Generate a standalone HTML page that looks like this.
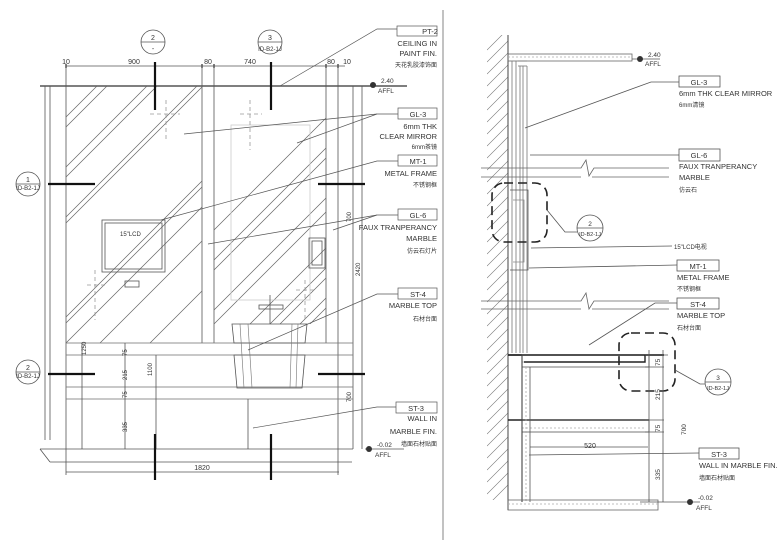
<!DOCTYPE html>
<html><head><meta charset="utf-8"><style>
html,body{margin:0;padding:0;background:#fff;}
svg{display:block;}
text{font-family:"Liberation Sans","Noto Sans CJK SC",sans-serif;fill:#333;}
</style></head><body>
<svg width="780" height="551" viewBox="0 0 780 551" xmlns="http://www.w3.org/2000/svg">
<defs>
<clipPath id="c1"><rect x="66" y="86" width="136" height="257"/></clipPath>
<clipPath id="c2"><rect x="214" y="86" width="112" height="238"/></clipPath>
<clipPath id="c3"><rect x="326" y="86" width="12" height="257"/></clipPath>
<clipPath id="wh"><rect x="487" y="35" width="21" height="465"/></clipPath>
</defs>
<g stroke="#555" stroke-width="0.8" fill="none">
<!-- divider -->
<line x1="443" y1="10" x2="443" y2="540" stroke="#666"/>
<!-- top dim -->
<line x1="66" y1="66" x2="345" y2="66"/>
<g stroke-width="1.5"><line x1="66" y1="64" x2="66" y2="68"/><line x1="202" y1="64" x2="202" y2="68"/><line x1="214" y1="64" x2="214" y2="68"/><line x1="326" y1="64" x2="326" y2="68"/><line x1="338" y1="64" x2="338" y2="68"/></g>
<!-- ceiling -->
<line x1="40" y1="86" x2="407" y2="86" stroke-width="1.4"/>
<!-- outer verticals -->
<line x1="45" y1="86" x2="45" y2="440"/>
<line x1="50" y1="86" x2="50" y2="440"/>
<line x1="66" y1="66" x2="66" y2="475"/>
<line x1="202" y1="66" x2="202" y2="343"/>
<line x1="214" y1="66" x2="214" y2="343"/>
<line x1="326" y1="66" x2="326" y2="343"/>
<line x1="338" y1="66" x2="338" y2="475"/>
<line x1="353" y1="86" x2="353" y2="449"/>
<line x1="362" y1="86" x2="362" y2="449"/>
<!-- hatch -->
<g clip-path="url(#c1)" stroke="#666" stroke-width="0.7">
<line x1="40" y1="343" x2="297" y2="86"/><line x1="46" y1="343" x2="303" y2="86"/>
<line x1="66" y1="343" x2="323" y2="86"/><line x1="100" y1="343" x2="357" y2="86"/>
<line x1="-60" y1="343" x2="197" y2="86"/><line x1="-54" y1="343" x2="203" y2="86"/>
<line x1="-110" y1="343" x2="147" y2="86"/><line x1="-100" y1="343" x2="157" y2="86"/>
<line x1="-160" y1="343" x2="97" y2="86"/><line x1="-150" y1="343" x2="107" y2="86"/>
<line x1="150" y1="343" x2="407" y2="86"/>
</g>
<g clip-path="url(#c2)" stroke="#666" stroke-width="0.7">
<line x1="214" y1="324" x2="452" y2="86"/><line x1="200" y1="324" x2="438" y2="86"/>
<line x1="250" y1="324" x2="488" y2="86"/><line x1="270" y1="324" x2="508" y2="86"/>
<line x1="280" y1="324" x2="518" y2="86"/><line x1="150" y1="324" x2="388" y2="86"/>
<line x1="160" y1="324" x2="398" y2="86"/><line x1="120" y1="324" x2="358" y2="86"/>
<line x1="300" y1="324" x2="538" y2="86"/><line x1="310" y1="324" x2="548" y2="86"/>
</g>
<!-- mirror inner -->
<rect x="231" y="125" width="79" height="175" stroke="#ccc"/>
<!-- TV -->
<rect x="102" y="220" width="63" height="52"/>
<rect x="105" y="223" width="57" height="46"/>
<rect x="125" y="281" width="14" height="6"/>
<!-- switch right -->
<rect x="309" y="238" width="16" height="30"/>
<rect x="312" y="241" width="10" height="24"/>
<!-- dashed cross markers -->
<g stroke="#999" stroke-dasharray="4,3">
<line x1="166" y1="100" x2="166" y2="140"/><line x1="150" y1="114" x2="180" y2="114"/>
<line x1="250" y1="100" x2="250" y2="150"/><line x1="240" y1="114" x2="262" y2="114"/>
<line x1="95" y1="270" x2="95" y2="320"/><line x1="87" y1="285" x2="105" y2="285"/>
<line x1="305" y1="280" x2="305" y2="320"/><line x1="296" y1="290" x2="316" y2="290"/>
</g>
<!-- counter -->
<rect x="66" y="343" width="287" height="12" stroke="#777"/>
<rect x="66" y="387" width="287" height="12" stroke="#777"/>
<line x1="66" y1="449" x2="353" y2="449"/>
<line x1="156" y1="355" x2="156" y2="449"/>
<line x1="248" y1="399" x2="248" y2="449"/>
<line x1="40" y1="449" x2="66" y2="449"/>
<line x1="40" y1="449" x2="50" y2="462"/>
<line x1="50" y1="462" x2="352" y2="462"/>
<line x1="82" y1="343" x2="82" y2="449"/>
<line x1="125" y1="343" x2="125" y2="449"/>
<!-- sink -->
<path d="M232 324 L307 324 L305 343 L234 343 Z"/>
<path d="M234 355 L305 355 L302 388 L237 388 Z"/>
<g stroke="#777" stroke-width="0.6"><line x1="240" y1="324" x2="244" y2="388"/><line x1="248" y1="324" x2="252" y2="388"/><line x1="292" y1="324" x2="290" y2="388"/><line x1="298" y1="324" x2="296" y2="388"/></g>
<line x1="270" y1="295" x2="270" y2="324"/>
<rect x="259" y="305" width="24" height="4"/>
<!-- bottom dim -->
<line x1="66" y1="472" x2="339" y2="472"/>
<!-- section markers -->
<circle cx="153" cy="42" r="12"/><line x1="141" y1="42" x2="165" y2="42"/>
<circle cx="270" cy="42" r="12"/><line x1="258" y1="42" x2="282" y2="42"/>
<circle cx="28" cy="184" r="12"/><line x1="16" y1="184" x2="40" y2="184"/>
<circle cx="28" cy="372" r="12"/><line x1="16" y1="372" x2="40" y2="372"/>
</g>
<g stroke="#111" stroke-width="2.2">
<line x1="155" y1="62" x2="155" y2="110"/><line x1="271" y1="62" x2="271" y2="110"/>
<line x1="155" y1="434" x2="155" y2="480"/><line x1="271" y1="434" x2="271" y2="480"/>
<line x1="48" y1="184" x2="95" y2="184"/><line x1="318" y1="184" x2="365" y2="184"/>
<line x1="48" y1="374" x2="95" y2="374"/><line x1="318" y1="374" x2="365" y2="374"/>
</g>
<g font-size="7" text-anchor="middle">
<text x="153" y="40">2</text><text x="153" y="51">-</text>
<text x="270" y="40">3</text><text x="270" y="51" font-size="6">ID-B2-1J</text>
<text x="28" y="182">1</text><text x="28" y="190" font-size="6">ID-B2-1J</text>
<text x="28" y="370">2</text><text x="28" y="378" font-size="6">ID-B2-1J</text>
<text x="66" y="64">10</text><text x="134" y="64">900</text><text x="208" y="64">80</text><text x="250" y="64">740</text><text x="331" y="64">80</text><text x="347" y="64">10</text>
<text x="202" y="470">1820</text>
<text x="120" y="236" font-size="6" text-anchor="start" x-fix="">15"LCD</text>
</g>
<g font-size="6" fill="#333">
<text transform="translate(86,355) rotate(-90)">1250</text>
<text transform="translate(127,356) rotate(-90)">75</text>
<text transform="translate(127,380) rotate(-90)">215</text>
<text transform="translate(127,398) rotate(-90)">75</text>
<text transform="translate(127,432) rotate(-90)">335</text>
<text transform="translate(152,376) rotate(-90)">1100</text>
<text transform="translate(351,222) rotate(-90)">700</text>
<text transform="translate(360,276) rotate(-90)">2420</text>
<text transform="translate(351,402) rotate(-90)">700</text>
</g>
<!-- labels left -->
<g stroke="#555" stroke-width="0.7" fill="none">
<rect x="397" y="26" width="40" height="10"/>
<rect x="398" y="108" width="39" height="11"/>
<rect x="398" y="155" width="39" height="11"/>
<rect x="398" y="209" width="39" height="11"/>
<rect x="398" y="288" width="39" height="11"/>
<rect x="396" y="402" width="41" height="11"/>
<polyline points="397,29 377,29 280,86"/>
<polyline points="398,114 377,114 184,134"/><line x1="377" y1="114" x2="297" y2="143"/>
<polyline points="398,161 377,161 161,220"/>
<polyline points="398,215 377,215 208,244"/><line x1="377" y1="215" x2="333" y2="230"/>
<polyline points="398,294 377,294 248,350"/>
<polyline points="396,407 377,407 253,428"/>
<line x1="365" y1="86" x2="407" y2="86"/>
<line x1="365" y1="449" x2="404" y2="449"/>
</g>
<g font-size="7.5" text-anchor="end">
<text x="430" y="34" text-anchor="middle">PT-2</text>
<text x="437" y="46">CEILING IN</text><text x="437" y="56">PAINT FIN.</text><text x="437" y="67" font-size="6">天花乳胶漆饰面</text>
<text x="418" y="117" text-anchor="middle">GL-3</text>
<text x="437" y="129">6mm THK</text><text x="437" y="139">CLEAR MIRROR</text><text x="437" y="149" font-size="6">6mm茶镜</text>
<text x="418" y="164" text-anchor="middle">MT-1</text>
<text x="437" y="176">METAL FRAME</text><text x="437" y="187" font-size="6">不锈钢框</text>
<text x="418" y="218" text-anchor="middle">GL-6</text>
<text x="437" y="230">FAUX TRANPERANCY</text><text x="437" y="241">MARBLE</text><text x="437" y="253" font-size="6">仿云石灯片</text>
<text x="418" y="297" text-anchor="middle">ST-4</text>
<text x="437" y="308">MARBLE TOP</text><text x="437" y="321" font-size="6">石材台面</text>
<text x="416" y="411" text-anchor="middle">ST-3</text>
<text x="437" y="421">WALL IN</text><text x="437" y="434">MARBLE FIN.</text><text x="437" y="446" font-size="6">墙面石材贴面</text>
</g>
<g font-size="6.5">
<circle cx="373" cy="85" r="3" fill="#333"/><text x="381" y="83">2.40</text><text x="378" y="93">AFFL</text>
<circle cx="369" cy="449" r="3" fill="#333"/><text x="377" y="447">-0.02</text><text x="375" y="457">AFFL</text>
</g>

<!-- RIGHT SECTION -->
<g stroke="#555" stroke-width="0.8" fill="none">
<g clip-path="url(#wh)" stroke="#777" stroke-width="0.6">
<path d="M487 50 l21 -21 M487 62 l21 -21 M487 74 l21 -21 M487 86 l21 -21 M487 98 l21 -21 M487 110 l21 -21 M487 122 l21 -21 M487 134 l21 -21 M487 146 l21 -21 M487 158 l21 -21 M487 170 l21 -21 M487 182 l21 -21 M487 194 l21 -21 M487 206 l21 -21 M487 218 l21 -21 M487 230 l21 -21 M487 242 l21 -21 M487 254 l21 -21 M487 266 l21 -21 M487 278 l21 -21 M487 290 l21 -21 M487 302 l21 -21 M487 314 l21 -21 M487 326 l21 -21 M487 338 l21 -21 M487 350 l21 -21 M487 362 l21 -21 M487 374 l21 -21 M487 386 l21 -21 M487 398 l21 -21 M487 410 l21 -21 M487 422 l21 -21 M487 434 l21 -21 M487 446 l21 -21 M487 458 l21 -21 M487 470 l21 -21 M487 482 l21 -21 M487 494 l21 -21 M487 506 l21 -21"/>
</g>
<line x1="508" y1="35" x2="508" y2="510" stroke-width="1.1"/>
<rect x="508" y="54" width="124" height="7" stroke="#666"/>
<line x1="508" y1="57" x2="632" y2="57" stroke="#aaa" stroke-dasharray="2,2"/>
<line x1="632" y1="59" x2="660" y2="59"/>
<g stroke="#777"><line x1="512" y1="61" x2="512" y2="353"/><line x1="516" y1="61" x2="516" y2="353"/><line x1="520" y1="66" x2="520" y2="353"/><line x1="523" y1="66" x2="523" y2="353"/><line x1="527" y1="66" x2="527" y2="353"/><line x1="518" y1="61" x2="527" y2="61"/><line x1="518" y1="66" x2="527" y2="66"/></g>
<!-- break lines -->
<path d="M481 168 H581 L586 160 L589 176 L594 168 H669" stroke="#666" fill="#fff"/>
<path d="M481 177 H581 M592 177 H669" stroke="#666"/>
<path d="M481 301 H581 L586 293 L589 309 L594 301 H669" stroke="#666" fill="#fff"/>
<path d="M481 309 H581 M592 309 H669" stroke="#666"/>
<!-- LCD -->
<path d="M510 190 H528 V270 H510" stroke="#555"/>
<path d="M513 200 H524 V262 H513" stroke="#888"/>
<rect x="492" y="183" width="55" height="59" rx="12" stroke="#222" stroke-width="1.6" stroke-dasharray="9,5"/>
<polyline points="547,210 565,232 577,232"/>
<circle cx="590" cy="228" r="13"/><line x1="577" y1="228" x2="603" y2="228"/>
<!-- counter -->
<path d="M508 355 H664" stroke="#222" stroke-width="1.8"/>
<rect x="522" y="355" width="127" height="12" stroke="#555"/>
<line x1="522" y1="362" x2="645" y2="362" stroke="#aaa" stroke-dasharray="2,2"/>
<path d="M645 355 V362 H524" stroke="#222" stroke-width="1.4"/>
<path d="M508 420 H649" stroke="#222" stroke-width="1.4"/>
<rect x="522" y="420" width="127" height="12" stroke="#555"/>
<line x1="522" y1="428" x2="645" y2="428" stroke="#aaa" stroke-dasharray="2,2"/>
<line x1="522" y1="355" x2="522" y2="502" stroke="#444" stroke-width="1.1"/>
<line x1="530" y1="367" x2="530" y2="502"/>
<line x1="526" y1="367" x2="526" y2="502" stroke="#aaa" stroke-dasharray="2,2"/>
<rect x="508" y="500" width="150" height="10" stroke="#666"/>
<line x1="508" y1="504" x2="658" y2="504" stroke="#aaa" stroke-dasharray="2,2"/>
<rect x="619" y="333" width="56" height="58" rx="12" stroke="#222" stroke-width="1.6" stroke-dasharray="9,5"/>
<polyline points="675,370 700,384 705,384"/>
<circle cx="718" cy="382" r="13"/><line x1="705" y1="382" x2="731" y2="382"/>
<!-- dims -->
<line x1="649" y1="350" x2="649" y2="502"/>
<line x1="663" y1="350" x2="663" y2="502"/>
<line x1="530" y1="447" x2="648" y2="447"/>
<line x1="645" y1="355" x2="668" y2="355"/><line x1="645" y1="367" x2="664" y2="367"/>
<line x1="645" y1="420" x2="664" y2="420"/><line x1="645" y1="432" x2="664" y2="432"/>
<line x1="640" y1="502" x2="700" y2="502"/>
<!-- leaders -->
<polyline points="679,82 651,82 525,128"/>
<polyline points="679,155 530,155"/>
<line x1="531" y1="248" x2="672" y2="246"/>
<polyline points="677,265 529,268"/>
<polyline points="677,303 655,303 589,345"/>
<polyline points="699,453 529,455"/>
<rect x="679" y="76" width="41" height="11"/>
<rect x="679" y="149" width="41" height="12"/>
<rect x="677" y="260" width="42" height="11"/>
<rect x="677" y="298" width="42" height="11"/>
<rect x="699" y="448" width="40" height="11"/>
</g>
<g font-size="7.5">
<text x="699" y="85" text-anchor="middle">GL-3</text>
<text x="679" y="96">6mm THK CLEAR MIRROR</text><text x="679" y="107" font-size="6">6mm清镜</text>
<text x="699" y="158" text-anchor="middle">GL-6</text>
<text x="679" y="169">FAUX TRANPERANCY</text><text x="679" y="180">MARBLE</text><text x="679" y="192" font-size="6">仿云石</text>
<text x="674" y="249" font-size="6">15"LCD电视</text>
<text x="698" y="269" text-anchor="middle">MT-1</text>
<text x="677" y="280">METAL FRAME</text><text x="677" y="291" font-size="6">不锈钢框</text>
<text x="698" y="307" text-anchor="middle">ST-4</text>
<text x="677" y="318">MARBLE TOP</text><text x="677" y="330" font-size="6">石材台面</text>
<text x="719" y="457" text-anchor="middle">ST-3</text>
<text x="699" y="468">WALL IN MARBLE FIN.</text><text x="699" y="480" font-size="6">墙面石材贴面</text>
<text x="590" y="448" font-size="7" text-anchor="middle">520</text>
</g>
<g font-size="6.5">
<circle cx="640" cy="59" r="3" fill="#333"/><text x="648" y="57">2.40</text><text x="645" y="66">AFFL</text>
<circle cx="690" cy="502" r="3" fill="#333"/><text x="698" y="500">-0.02</text><text x="696" y="510">AFFL</text>
<text x="590" y="226" text-anchor="middle">2</text><text x="590" y="236" font-size="5.5" text-anchor="middle">ID-B2-1J</text>
<text x="718" y="380" text-anchor="middle">3</text><text x="718" y="390" font-size="5.5" text-anchor="middle">ID-B2-1J</text>
<text transform="translate(660,366) rotate(-90)">75</text>
<text transform="translate(660,400) rotate(-90)">215</text>
<text transform="translate(660,432) rotate(-90)">75</text>
<text transform="translate(660,480) rotate(-90)">335</text>
<text transform="translate(686,435) rotate(-90)">700</text>
</g>
</svg>
</body></html>
